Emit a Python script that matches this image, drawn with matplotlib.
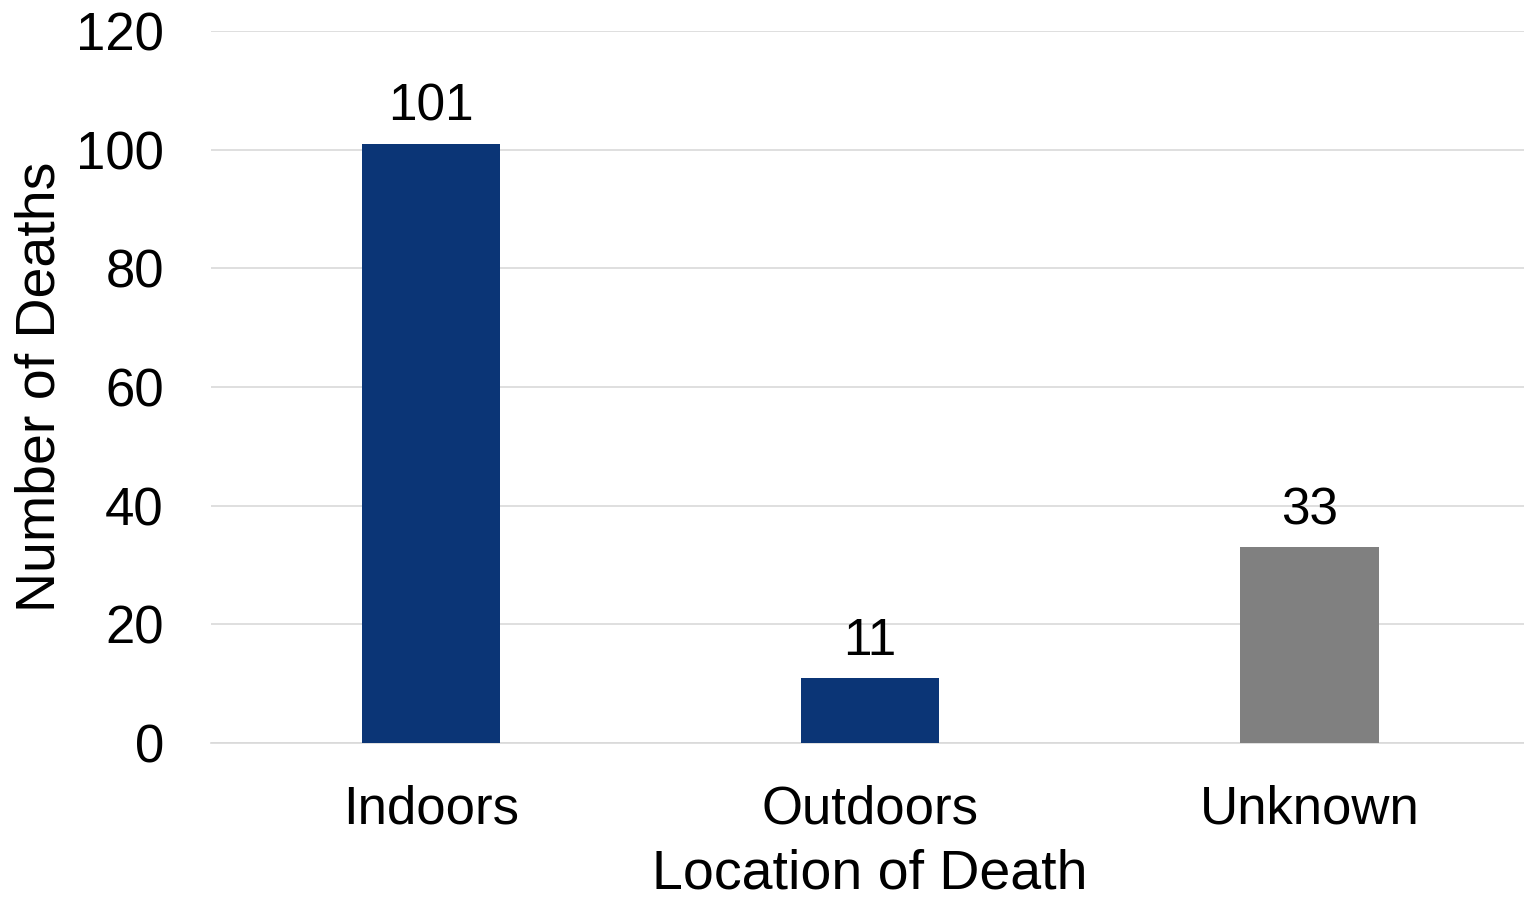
import matplotlib.pyplot as plt

# data
locations = ['Indoors', 'Outdoors', 'Unknown']
deaths = [101, 11, 33]
bar_colors = ['#0B3576', '#0B3576', '#808080']

plt.rcParams['font.family'] = ['Liberation Sans', 'DejaVu Sans']

fig = plt.figure(figsize=(15.24, 9), dpi=100)
ax = fig.add_axes([0.1385, 0.1744, 0.865, 0.7912])

x = range(len(locations))
bars = ax.bar(x, deaths, width=0.315, color=bar_colors, zorder=3)

# value labels above bars
for b, v in zip(bars, deaths):
    ax.text(b.get_x() + b.get_width() / 2, v + 2.0, str(v),
            ha='center', va='bottom', fontsize=37)

ax.set_xlim(-0.5, 2.5)
ax.set_ylim(0, 120)
ax.set_yticks(range(0, 121, 20))
ax.set_xticks(list(x))
ax.set_xticklabels(locations)
ax.tick_params(axis='both', length=0, labelsize=38)
ax.tick_params(axis='y', pad=34)
ax.tick_params(axis='x', pad=30)
ax.grid(axis='y', color='#d9d9d9', linewidth=1.2, zorder=0)

for s in ['top', 'right', 'left']:
    ax.spines[s].set_visible(False)
ax.spines['bottom'].set_color('#d9d9d9')
ax.spines['bottom'].set_linewidth(1.2)

ax.set_xlabel('Location of Death', fontsize=40, labelpad=10)
ax.set_ylabel('Number of Deaths', fontsize=40, labelpad=7)

plt.savefig('out.png', dpi=100)
